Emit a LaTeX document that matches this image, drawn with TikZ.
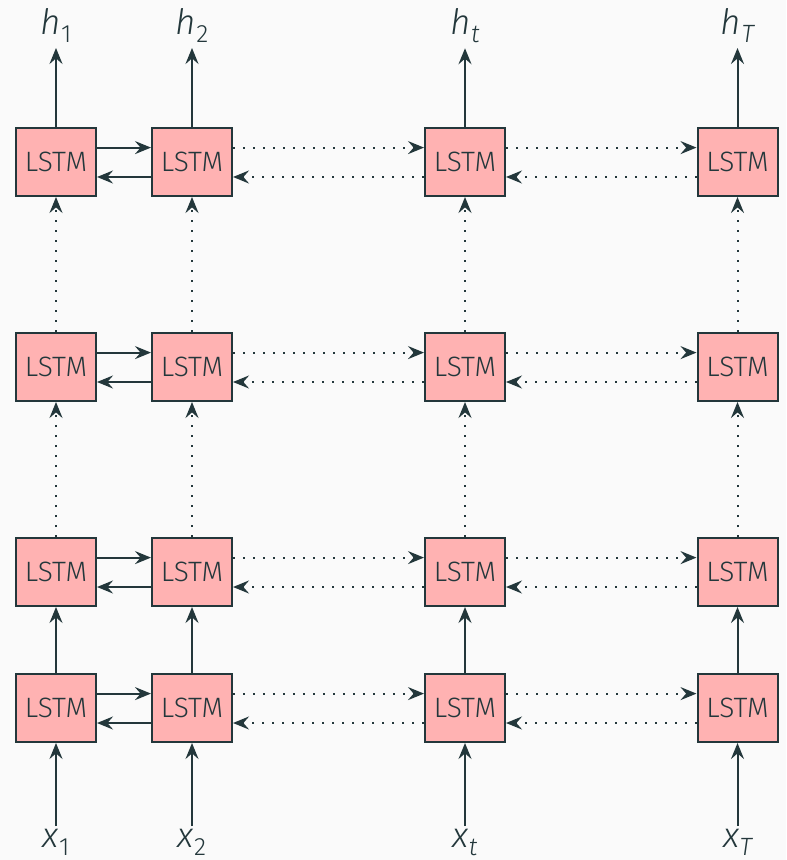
\documentclass[tikz,border=0pt]{standalone}
\usepackage{fontspec}
\setmainfont{Fira Sans Light}[ItalicFont={Fira Sans Light Italic}]
\usetikzlibrary{arrows.meta}
\definecolor{mDarkTeal}{HTML}{23373B}
\definecolor{pagebg}{HTML}{FAFAFA}
% italic symbol with a lowered subscript
\newcommand{\symb}[2]{{\itshape #1}\kern0.2pt\raisebox{-4pt}{\fontsize{12.5}{14}\selectfont #2}}
\begin{document}
\begin{tikzpicture}[x=0.5pt,y=-0.5pt,
  cell/.style={draw=mDarkTeal, fill=red!30, line width=1pt, minimum width=40pt,
    minimum height=34pt, inner sep=0pt, text=mDarkTeal,
    font=\fontsize{14}{16}\selectfont},
  lab/.style={text=mDarkTeal, inner sep=2.5pt, outer sep=0pt, anchor=base,
    font=\fontsize{17.5}{20}\selectfont},
  inlab/.style={lab, inner sep=1.5pt},
  wire/.style={draw=mDarkTeal, line width=1pt,
    -{Stealth[length=8pt,width=6.5pt,inset=2.8pt]}},
  dotwire/.style={wire, dash pattern=on 1pt off 4pt}]
\fill[pagebg] (0,0) rectangle (786,860);
\useasboundingbox (0,0) rectangle (786,860);

% grid of LSTM cells: rows 1 (top) to 4 (bottom), columns 1, 2, t, T
\foreach \r/\y in {1/162,2/367,3/572,4/708}
  \foreach \c/\x in {1/56,2/192,3/465,4/737.5}
    \node[cell] (b\r\c) at (\x,\y) {LSTM};

% outputs and inputs
\node[lab] (h1) at (56,35) {\symb{h}{1}};
\node[lab] (h2) at (192,35) {\symb{h}{2}};
\node[lab] (h3) at (465,35) {\symb{h}{\itshape t}};
\node[lab] (h4) at (737.5,35) {\symb{h}{\itshape T}};
\node[inlab] (x1) at (56,847.5) {\symb{x}{1}};
\node[inlab] (x2) at (192,847.5) {\symb{x}{2}};
\node[inlab] (x3) at (465,847.5) {\symb{x}{\itshape t}};
\node[inlab] (x4) at (737.5,847.5) {\symb{x}{\itshape T}};

\foreach \c in {1,2,3,4}{
  \draw[wire] (b1\c.north) -- (h\c);
  \draw[wire] (x\c) -- (b4\c);
  \draw[wire] (b4\c) -- (b3\c);
  \draw[dotwire] (b3\c) -- (b2\c);
  \draw[dotwire] (b2\c) -- (b1\c);
}

% forward and backward links within each layer
\foreach \r in {1,2,3,4}{
  \draw[wire] ([yshift=7.2pt]b\r1.east) -- ([yshift=7.2pt]b\r2.west);
  \draw[wire] ([yshift=-7.5pt]b\r2.west) -- ([yshift=-7.5pt]b\r1.east);
  \draw[dotwire] ([yshift=7.2pt]b\r2.east) -- ([yshift=7.2pt]b\r3.west);
  \draw[dotwire] ([yshift=-7.5pt]b\r3.west) -- ([yshift=-7.5pt]b\r2.east);
  \draw[dotwire] ([yshift=7.2pt]b\r3.east) -- ([yshift=7.2pt]b\r4.west);
  \draw[dotwire] ([yshift=-7.5pt]b\r4.west) -- ([yshift=-7.5pt]b\r3.east);
}
\end{tikzpicture}
\end{document}
